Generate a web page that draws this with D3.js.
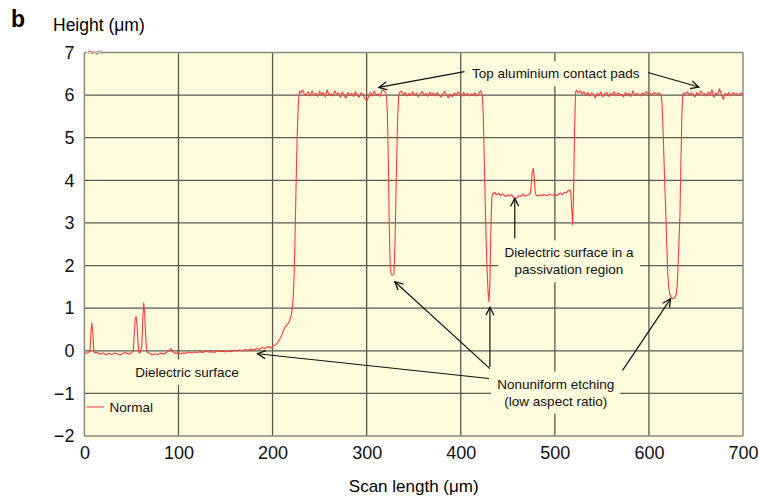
<!DOCTYPE html>
<html lang="en">
<head>
    <meta charset="UTF-8">
    <title>Surface profile</title>
    <style>
        body{ margin:0; background:#fff; }
        svg{ font-family:"Liberation Sans", Arial, Helvetica, sans-serif; }
        .grid line{ stroke:#5a5a55; stroke-width:1.3; }
        .axis text{ font-size:18px; fill:#111; }
        .axis path, .axis line{ display:none; }
        .note{ font-size:13.5px; fill:#111; }
        .arrow{ stroke:#111; stroke-width:1.2; fill:none; }
    </style>
</head>
<body>
    <svg width="759" height="500"></svg>
    <script src="https://d3js.org/d3.v7.min.js"></script>
    <script>
        // tick values
        var xTicks = [0, 100, 200, 300, 400, 500, 600, 700];
        var yTicks = [-2, -1, 0, 1, 2, 3, 4, 5, 6, 7];

        // scan profile: [scan length (um), height (um)]
        var profile = [
            [0,-0.05],[2,-0.06],[4,-0.04],[6,0.0],[7,0.45],[8,0.65],[9,0.4],[10,0.0],[11,-0.05],[14,-0.04],
            [17,-0.08],[20,-0.05],[23,-0.1],[26,-0.06],[29,-0.09],[32,-0.05],[35,-0.07],[38,-0.1],[41,-0.06],[44,-0.04],
            [47,-0.08],[50,-0.05],[52,0.0],[53,0.4],[54,0.75],[55,0.8],[56,0.6],[57,0.2],[58,-0.05],[59,-0.05],
            [61,0.1],[62,0.7],[63,1.12],[64,0.9],[65,0.4],[66,0.05],[67,-0.04],[70,-0.06],[72,-0.1],[75,-0.07],
            [78,-0.09],[81,-0.05],[84,-0.08],[87,-0.04],[90,0.0],[92,0.05],[94,-0.02],[96,-0.06],[99,-0.05],[102,-0.07],
            [105,-0.05],[108,-0.06],[111,-0.03],[114,-0.05],[117,-0.03],[120,-0.04],[123,-0.02],[126,-0.04],[129,-0.01],[132,-0.03],
            [135,-0.02],[138,-0.04],[141,0.0],[144,-0.02],[147,-0.01],[150,-0.03],[153,0.0],[156,-0.02],[159,0.01],[162,0.0],
            [165,0.02],[168,0.0],[171,0.03],[174,0.01],[177,0.04],[180,0.02],[183,0.06],[186,0.03],[189,0.08],[192,0.05],
            [195,0.1],[198,0.06],[201,0.12],[204,0.15],[207,0.25],[210,0.38],[212,0.5],[214,0.58],[216,0.62],[218,0.7],
            [220,0.85],[221,1.0],[222,1.3],[223,1.8],[224,2.8],[225,3.9],[226,4.9],[227,5.6],[228,6.0],[229,6.1],
            [230,6.05],[232,6.12],[234,6.0],[236,6.02],[238,6.08],[240,5.98],[242,6.1],[244,6.0],[246,6.04],[248,5.97],
            [250,6.09],[252,6.01],[254,6.06],[256,5.96],[258,6.12],[260,6.0],[262,6.03],[264,5.98],[266,6.1],[268,6.02],
            [270,6.05],[272,5.95],[274,6.07],[276,6.0],[278,5.93],[280,6.06],[282,6.0],[284,6.04],[286,5.97],[288,6.08],
            [290,6.0],[292,5.95],[294,6.05],[296,6.02],[298,5.92],[300,5.86],[302,5.95],[304,6.06],[306,5.98],[308,6.1],
            [310,6.0],[312,6.03],[314,5.97],[316,6.1],[318,6.12],[320,6.05],[321,6.0],[322,5.6],[323,4.5],[324,3.0],
            [325,2.0],[326,1.8],[327,1.78],[328,1.78],[329,1.8],[330,2.4],[331,3.5],[332,4.6],[333,5.5],[334,6.0],
            [335,6.05],[337,6.1],[339,6.0],[341,6.06],[343,5.98],[345,6.04],[347,6.0],[349,6.08],[351,5.99],[353,6.05],
            [355,5.96],[357,6.03],[359,6.08],[361,6.0],[363,6.04],[365,5.97],[367,6.07],[369,6.01],[371,6.05],[373,5.98],
            [375,6.06],[377,6.0],[379,5.95],[381,6.03],[383,6.08],[385,6.0],[387,5.94],[389,6.02],[391,5.96],[393,6.05],
            [395,6.0],[397,6.08],[399,6.02],[401,5.97],[403,6.06],[405,6.0],[407,6.04],[409,5.98],[411,6.03],[413,6.0],
            [415,6.05],[417,5.98],[419,6.02],[421,6.1],[423,6.0],[424,5.5],[425,4.5],[426,3.5],[427,2.6],[428,1.9],
            [429,1.4],[430,1.15],[431,1.6],[432,2.8],[433,3.6],[434,3.68],[436,3.72],[438,3.66],[440,3.7],[442,3.64],
            [444,3.68],[446,3.65],[448,3.62],[450,3.66],[452,3.63],[454,3.67],[456,3.6],[458,3.56],[460,3.6],[462,3.64],
            [464,3.62],[466,3.68],[468,3.63],[470,3.65],[472,3.66],[474,3.7],[475,3.9],[476,4.2],[477,4.28],[478,4.1],
            [479,3.75],[480,3.65],[482,3.63],[484,3.66],[486,3.64],[488,3.67],[490,3.65],[492,3.64],[494,3.68],[496,3.66],
            [498,3.65],[500,3.67],[502,3.64],[504,3.68],[506,3.7],[508,3.66],[510,3.72],[512,3.7],[514,3.75],[516,3.78],
            [517,3.72],[518,3.3],[519,2.96],[520,3.8],[521,5.2],[522,6.05],[523,6.12],[525,6.05],[527,6.1],[529,6.03],
            [531,6.08],[533,6.0],[535,6.06],[537,5.98],[539,6.05],[541,6.02],[543,5.93],[545,6.04],[547,6.0],[549,6.07],
            [551,5.96],[553,6.03],[555,6.06],[557,5.97],[559,6.04],[561,6.0],[563,6.08],[565,5.98],[567,6.05],[569,6.0],
            [571,6.02],[573,5.96],[575,6.06],[577,6.01],[579,6.04],[581,5.97],[583,6.1],[585,6.0],[587,6.04],[589,6.02],
            [591,5.98],[593,6.05],[595,6.0],[597,6.08],[599,6.03],[601,6.05],[603,6.0],[605,6.06],[607,6.04],[609,6.02],
            [611,6.05],[613,6.0],[614,5.8],[615,5.2],[616,4.5],[617,3.8],[618,3.2],[619,2.5],[620,1.8],[621,1.5],
            [622,1.35],[623,1.28],[624,1.24],[625,1.22],[626,1.23],[627,1.24],[628,1.27],[629,1.32],[630,1.5],[631,2.0],
            [632,2.6],[633,3.2],[634,4.4],[635,5.5],[636,6.0],[637,6.05],[639,6.02],[641,6.08],[643,6.0],[645,6.05],
            [647,6.02],[649,5.96],[651,6.06],[653,6.0],[655,6.1],[657,6.02],[659,6.04],[661,5.98],[663,6.07],[665,6.01],
            [667,6.12],[669,5.95],[671,6.05],[673,6.0],[675,6.15],[677,6.02],[679,5.9],[681,6.04],[683,6.0],[685,6.06],
            [687,5.98],[689,6.05],[691,6.02],[693,6.04],[695,5.99],[697,6.05],[699,6.02],[700,6.04]
        ];

        // annotation texts, anchored in data units
        var labels = [
            {lines:["Top aluminium contact pads"], x:501, y:6.51},
            {lines:["Dielectric surface in a", "passivation region"], x:515, y:2.31},
            {lines:["Dielectric surface"], x:109, y:-0.49},
            {lines:["Nonuniform etching", "(low aspect ratio)"], x:501, y:-0.77}
        ];
        // arrows: [from x, from y, to x, to y] in data units
        var arrows = [
            [404, 6.55, 313, 6.18],
            [599, 6.53, 653, 6.19],
            [457.4, 2.64, 457.4, 3.58],
            [430, -0.65, 184, -0.07],
            [431, -0.42, 330, 1.62],
            [431, -0.38, 431, 1.02],
            [572, -0.46, 623, 1.22]
        ];

        var svg = d3.select("svg");
        var x = d3.scaleLinear().domain([0, 700]).range([84.4, 743]);
        var y = d3.scaleLinear().domain([-2, 7]).range([436, 52.5]);
        var plotL = x(0), plotR = x(700), plotT = y(7), plotB = y(-2);
        var bg = "#fffbdc";

        var defs = svg.append("defs");
        defs.append("marker")
            .attr("id", "head")
            .attr("viewBox", "0 0 10 10")
            .attr("refX", 9).attr("refY", 5)
            .attr("markerWidth", 10).attr("markerHeight", 10)
            .attr("markerUnits", "userSpaceOnUse")
            .attr("orient", "auto")
          .append("path")
            .attr("d", "M1,1 L9,5 L1,9")
            .attr("fill", "none")
            .attr("stroke", "#111")
            .attr("stroke-width", 1.3);

        // plot background
        svg.append("rect")
            .attr("x", plotL).attr("y", plotT)
            .attr("width", plotR - plotL).attr("height", plotB - plotT + 4)
            .attr("fill", bg);

        // grid
        var grid = svg.append("g").attr("class", "grid");
        grid.selectAll(".h").data(yTicks.filter(function(d){ return d > -2 && d < 7; }))
            .enter().append("line")
            .attr("x1", plotL).attr("x2", plotR)
            .attr("y1", function(d){ return y(d); }).attr("y2", function(d){ return y(d); });
        grid.selectAll(".v").data(xTicks.filter(function(d){ return d > 0 && d < 700; }))
            .enter().append("line")
            .attr("y1", plotT).attr("y2", plotB)
            .attr("x1", function(d){ return x(d); }).attr("x2", function(d){ return x(d); });

        // frame (top edge broken by the small "Height" tag)
        var frame = svg.append("g").attr("stroke", "#8c8a7e").attr("stroke-width", 1.5);
        frame.append("line").attr("x1", plotL).attr("x2", plotL).attr("y1", plotT).attr("y2", plotB);
        frame.append("line").attr("x1", plotR).attr("x2", plotR).attr("y1", plotT).attr("y2", plotB);
        frame.append("line").attr("x1", plotL).attr("x2", plotR).attr("y1", plotB).attr("y2", plotB);
        frame.append("line").attr("x1", plotL).attr("x2", plotL + 2.5).attr("y1", plotT).attr("y2", plotT);
        frame.append("line").attr("x1", plotL + 17.5).attr("x2", plotR).attr("y1", plotT).attr("y2", plotT);
        svg.append("text")
            .attr("x", plotL + 3.5).attr("y", plotT + 1.8)
            .attr("font-size", 5).attr("fill", "#555")
            .text("Height");

        // annotation labels with a plot-coloured box hiding the grid
        labels.forEach(function(l){
            var t = svg.append("text").attr("class", "note").attr("text-anchor", "middle");
            l.lines.forEach(function(s, i){
                t.append("tspan").attr("x", x(l.x)).attr("y", y(l.y) + 5 + i * 17).text(s);
            });
            var b = t.node().getBBox();
            svg.insert("rect", function(){ return t.node(); })
                .attr("x", b.x - 6).attr("y", b.y - 5)
                .attr("width", b.width + 12).attr("height", b.height + 10)
                .attr("fill", bg);
        });

        // legend
        svg.append("line")
            .attr("x1", plotL + 2).attr("x2", plotL + 20)
            .attr("y1", 407).attr("y2", 407)
            .attr("stroke", "#ff5a5a").attr("stroke-width", 1.2);
        svg.append("text").attr("class", "note")
            .attr("x", plotL + 25).attr("y", 412).text("Normal");

        // profile
        var line = d3.line()
            .x(function(d){ return x(d[0]); })
            .y(function(d){ return y(d[1]); });
        svg.append("path")
            .datum(profile)
            .attr("d", line)
            .attr("fill", "none")
            .attr("stroke", "#ff3b3b")
            .attr("stroke-width", 1.1)
            .attr("stroke-linejoin", "round");

        // arrows
        svg.selectAll(".arrow").data(arrows)
            .enter().append("line")
            .attr("class", "arrow")
            .attr("x1", function(d){ return x(d[0]); })
            .attr("y1", function(d){ return y(d[1]); })
            .attr("x2", function(d){ return x(d[2]); })
            .attr("y2", function(d){ return y(d[3]); })
            .attr("marker-end", "url(#head)");

        // axes
        svg.append("g")
            .attr("class", "axis")
            .attr("transform", "translate(" + plotL + ",0)")
            .call(d3.axisLeft(y).tickValues(yTicks).tickSize(0).tickPadding(10)
                .tickFormat(function(d){ return d < 0 ? "\u2212" + Math.abs(d) : d; }));
        svg.append("g")
            .attr("class", "axis")
            .attr("transform", "translate(0," + plotB + ")")
            .call(d3.axisBottom(x).tickValues(xTicks).tickSize(0).tickPadding(10));

        // titles
        svg.append("text")
            .attr("x", 11).attr("y", 27)
            .attr("font-size", 23).attr("font-weight", "bold")
            .text("b");
        svg.append("text")
            .attr("x", 53).attr("y", 31)
            .attr("font-size", 17.5)
            .text("Height (\u03bcm)");
        svg.append("text")
            .attr("x", (plotL + plotR) / 2).attr("y", 492)
            .attr("text-anchor", "middle")
            .attr("font-size", 17)
            .text("Scan length (\u03bcm)");
    </script>
</body>
</html>
